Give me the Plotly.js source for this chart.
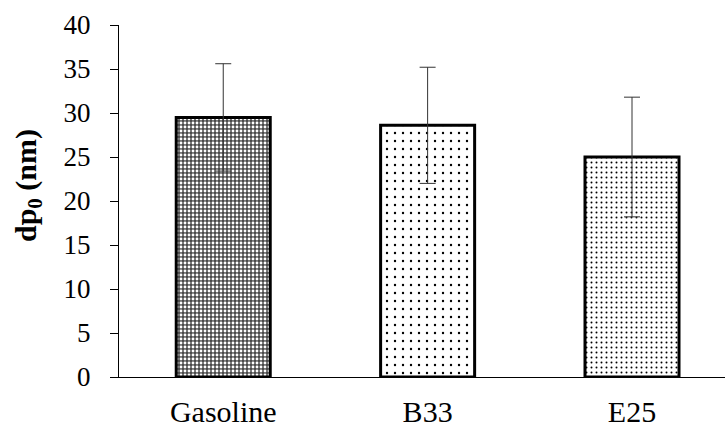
<!DOCTYPE html>
<html>
<head>
<meta charset="utf-8">
<script src="https://cdn.plot.ly/plotly-3.0.1.min.js"></script>
<style>html,body{margin:0;padding:0;background:#fff;}#chart{width:728px;height:429px;}</style>
</head>
<body>
<div id="chart"></div>
<script>
const categories = ["Gasoline", "B33", "E25"];
const dp0Values = [29.5, 28.6, 25.0];
const dp0Errors = [6.1, 6.6, 6.8];
const yTickValues = [0, 5, 10, 15, 20, 25, 30, 35, 40];
const yTitle = "<b>dp<sub>0</sub> (nm)</b>";

const serif = "Liberation Serif";
const patternBg = ["#4a4a4a", "#ffffff", "#ffffff"];
const patternFg = ["#ffffff", "#000000", "#000000"];
const patternSize = [4, 8, 5];
const patternSolidity = [0.4, 0.07, 0.12];

const traces = categories.map((cat, i) => ({
  type: "bar",
  x: [cat],
  y: [dp0Values[i]],
  width: 0.46,
  marker: {
    color: patternBg[i],
    line: {color: "#000", width: 3},
    pattern: {
      shape: ".",
      bgcolor: patternBg[i],
      fgcolor: patternFg[i],
      size: patternSize[i],
      solidity: patternSolidity[i],
      fillmode: "replace"
    }
  },
  error_y: {type: "data", array: [dp0Errors[i]], visible: true, color: "#333", thickness: 1, width: 8},
  hoverinfo: "none"
}));

const layout = {
  width: 728, height: 429,
  margin: {l: 119, r: 3, t: 25, b: 52},
  paper_bgcolor: "#fff", plot_bgcolor: "#fff",
  showlegend: false,
  barmode: "overlay",
  font: {family: serif, color: "#000", size: 26},
  xaxis: {
    type: "category",
    categoryorder: "array", categoryarray: categories,
    range: [-0.51, 2.455],
    showline: true, linecolor: "#000", linewidth: 1,
    ticks: "", showgrid: false, zeroline: false,
    tickfont: {family: serif, size: 30, color: "#000"},
    ticklabelstandoff: 8
  },
  yaxis: {
    range: [0, 40],
    tickvals: yTickValues,
    ticks: "outside", ticklen: 8, tickcolor: "#000",
    showline: true, linecolor: "#000", linewidth: 1,
    showgrid: false, zeroline: false,
    tickfont: {family: serif, size: 27, color: "#000"},
    ticklabelstandoff: 14
  },
  annotations: [{
    text: yTitle,
    xref: "paper", yref: "paper",
    x: -91 / 606, y: 192 / 352,
    xanchor: "center", yanchor: "middle",
    textangle: -90,
    showarrow: false,
    font: {family: serif, size: 30, color: "#000"}
  }]
};

Plotly.newPlot("chart", traces, layout, {staticPlot: true});
</script>
</body>
</html>
